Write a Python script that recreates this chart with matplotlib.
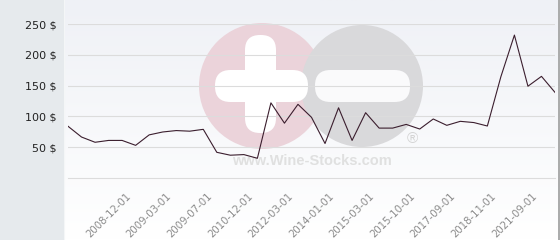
import matplotlib.pyplot as plt
import matplotlib.transforms as mtransforms
from matplotlib.colors import LinearSegmentedColormap
from matplotlib.patches import Circle, FancyBboxPatch
import numpy as np

# price per bottle, one value per point
prices = [84, 66.5, 58, 61, 61, 53, 70, 74.7, 77, 76, 79, 41.7, 37, 38, 32,
          122, 89, 119.6, 98.5, 56, 114, 61, 106, 81, 81, 87, 79.5, 95.8,
          85.5, 92, 90, 84.4, 164.5, 232, 149, 165, 139]
tick_idx = [4, 7, 10, 13, 16, 19, 22, 25, 28, 31, 34]
tick_labels = ["2008-12-01", "2009-03-01", "2009-07-01", "2010-12-01",
               "2012-03-01", "2014-01-01", "2015-03-01", "2015-10-01",
               "2017-09-01", "2018-11-01", "2021-09-01"]
y_ticks = [50, 100, 150, 200, 250]

W, H = 560, 240
fig = plt.figure(figsize=(W / 100, H / 100), dpi=100)
fig.patch.set_facecolor("#e6eaed")

# background panel + watermark, drawn in pixel coordinates
bg = fig.add_axes([0, 0, 1, 1], zorder=0)
bg.set_xlim(0, W)
bg.set_ylim(H, 0)
bg.axis("off")
grad = np.linspace(0, 1, 100).reshape(-1, 1)
cmap = LinearSegmentedColormap.from_list("g", ["#eff1f6", "#ffffff"])
bg.imshow(grad, cmap=cmap, extent=[64, 558, H, 0], aspect="auto")
bg.plot([559, 559], [0, H], color="#a0a0a0", lw=1.2)
bg.plot([63.5, 63.5], [0, H], color="#f4f6f7", lw=0.8)

def bar(x0, y0, w, h, r, c="white"):
    bg.add_patch(FancyBboxPatch((x0, y0), w, h, lw=0, color=c,
                                boxstyle=f"round,pad=0,rounding_size={r}"))

bg.add_patch(Circle((262, 86), 63, color="#ebd3da", lw=0))
bg.add_patch(Circle((362, 86), 61, color="#d9d9db", lw=0))
bar(215, 70, 93, 32, 15.5)
bar(245, 35, 31, 98, 15)
bar(315, 70, 95, 32, 15.5, "#fafafb")
bg.text(312, 161, "www.Wine-Stocks.com", family="Liberation Sans", weight="bold",
        fontsize=10.5, color="#e0e0e0", ha="center", va="center")
bg.text(412, 139, "®", family="Liberation Sans", fontsize=11, color="#d4d4d4",
        ha="center", va="center")

# chart
ax = fig.add_axes([68 / W, 1 - 178 / H, 487 / W, 154 / H], zorder=1)
ax.set_facecolor("none")
x = np.arange(len(prices))
ax.plot(x, prices, color="#3b1e2e", lw=0.8, zorder=3)
ax.set_xlim(0, len(prices) - 1)
ax.set_ylim(0, 250)
for s in ax.spines.values():
    s.set_visible(False)
ax.set_yticks(y_ticks)
ax.set_yticklabels([f"{v} $" for v in y_ticks], fontsize=8, color="#222222")
ax.yaxis.grid(True, color="#dcdcdc", lw=0.8)
ax.axhline(0, color="#dcdcdc", lw=0.8, clip_on=False)
ax.tick_params(axis="y", length=0, pad=8)
ax.set_xticks(tick_idx)
ax.set_xticklabels(tick_labels, rotation=45, ha="right", va="center",
                   rotation_mode="anchor", fontsize=7.3, color="#8a8a8a")
ax.tick_params(axis="x", length=0, pad=12)
off = mtransforms.ScaledTranslation(7 / 100, 0, fig.dpi_scale_trans)
for lbl in ax.get_xticklabels():
    lbl.set_transform(lbl.get_transform() + off)

fig.savefig("out.png", dpi=100)
